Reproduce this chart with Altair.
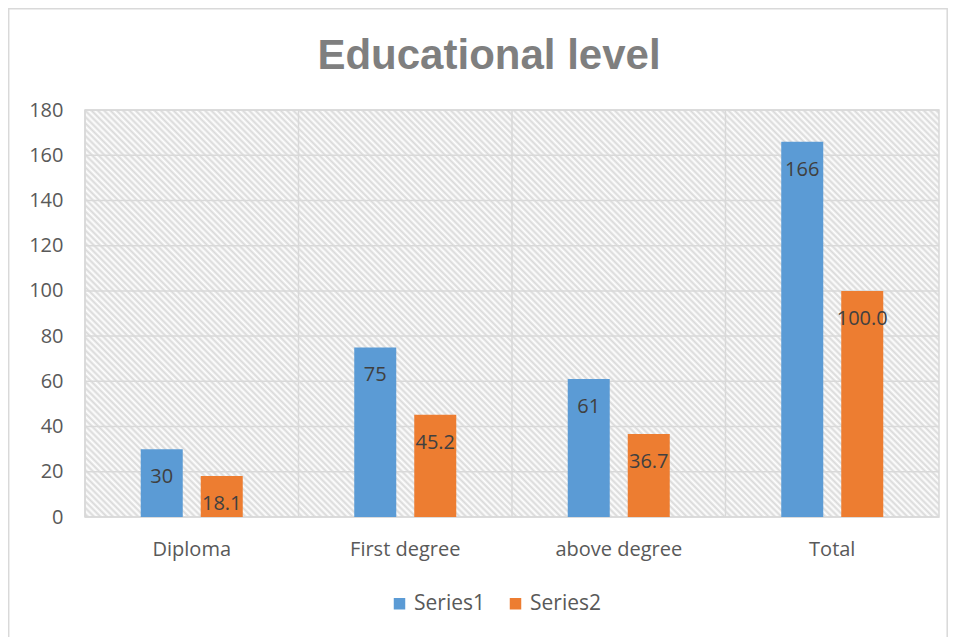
import altair as alt
import pandas as pd

categories = ["Diploma", "First degree", "above degree", "Total"]
series_names = ["Series1", "Series2"]
series1 = [30, 75, 61, 166]
series2 = [18.1, 45.2, 36.7, 100.0]
y_ticks = [0, 20, 40, 60, 80, 100, 120, 140, 160, 180]
colors = ["#5B9BD5", "#ED7D31"]

rows = []
for c, v in zip(categories, series1):
    rows.append({"category": c, "series": "Series1", "value": v})
for c, v in zip(categories, series2):
    rows.append({"category": c, "series": "Series2", "value": v})
df = pd.DataFrame(rows)
ticks_df = pd.DataFrame({"tick": y_ticks})
cats_df = pd.DataFrame({"category": categories})

W, H = 854, 407
FONT = "Open Sans"
GRID = "#d9d9d9"

# diagonal hatch built as a striped linear gradient (style only)
b = -H / W
s = (1 - b) / (1 + b * b)
period = 6.3
N = int(round((W + H) / period))
stops = []
for k in range(2 * N + 1):
    stops.append(alt.GradientStop(color="#ffffff" if k % 2 == 0 else "#d9d9d9",
                                  offset=k / (2 * N)))
hatch = alt.LinearGradient(gradient="linear", stops=stops,
                           x1=0, y1=1, x2=s, y2=1 + s * b)

x_enc = alt.X("category:N", sort=categories, title=None,
              scale=alt.Scale(paddingInner=0, paddingOuter=0),
              axis=alt.Axis(labelAngle=0, labelPadding=22, tickSize=0))
y_scale = alt.Scale(domain=[0, 180], nice=False)

bg = alt.Chart(alt.Data(values=[{}])).mark_rect(
    fill=hatch, stroke=GRID, strokeWidth=1.5
).encode(x=alt.value(0), x2=alt.value(W), y=alt.value(0), y2=alt.value(H))

hgrid = alt.Chart(ticks_df).mark_rule(color=GRID, strokeWidth=1.5).encode(
    y=alt.Y("tick:Q", scale=y_scale, title=None,
            axis=alt.Axis(values=y_ticks, labelPadding=22, tickSize=0))
)

vgrid = alt.Chart(cats_df).mark_rule(color=GRID, strokeWidth=1.5).encode(
    x=alt.X("category:N", sort=categories, title=None, bandPosition=0,
            scale=alt.Scale(paddingInner=0, paddingOuter=0),
            axis=alt.Axis(labelAngle=0, labelPadding=22, tickSize=0))
)

xoff = alt.XOffset("series:N", sort=series_names,
                   scale=alt.Scale(paddingInner=0.3, paddingOuter=0.929))

bars = alt.Chart(df).mark_bar().encode(
    x=x_enc,
    xOffset=xoff,
    y=alt.Y("value:Q", scale=y_scale, title=None,
            axis=alt.Axis(values=y_ticks, labelPadding=22, tickSize=0)),
    color=alt.Color("series:N", sort=series_names,
                    scale=alt.Scale(domain=series_names, range=colors),
                    legend=alt.Legend(orient="none", legendX=304, legendY=483,
                                      direction="horizontal", title=None,
                                      symbolType="square", symbolSize=132,
                                      symbolStrokeWidth=0,
                                      labelFont=FONT, labelFontSize=21,
                                      labelColor="#595959", labelOffset=4,
                                      columnPadding=20)),
)

text = alt.Chart(df).transform_calculate(
    label="datum.series == 'Series2' ? format(datum.value, '.1f') : format(datum.value, 'd')"
).mark_text(font=FONT, fontSize=20, color="#404040", baseline="middle",
            align="center", dy=28).encode(
    x=x_enc,
    xOffset=xoff,
    y=alt.Y("value:Q", scale=y_scale, title=None),
    text="label:N",
)

border = alt.Chart(alt.Data(values=[{}])).mark_rect(
    fill=None, filled=False, stroke=GRID, strokeWidth=1.5
).encode(x=alt.value(-76.3), x2=alt.value(862.2), y=alt.value(-101.3), y2=alt.value(700))

chart = alt.layer(bg, hgrid, vgrid, bars, text, border).properties(
    width=W, height=H,
    padding={"left": 77, "top": 102, "right": 9, "bottom": 120},
    autosize=alt.AutoSizeParams(type="none"),
    title=alt.TitleParams("Educational level", font="Liberation Sans", fontSize=42,
                          fontWeight="bold", color="#7f7f7f", anchor="middle",
                          dx=-23, dy=103, offset=0, baseline="alphabetic"),
).configure_axis(
    grid=False, domain=False, ticks=False,
    labelFont=FONT, labelFontSize=20, labelColor="#595959",
).configure_view(stroke=None)

chart.save("out.html", embed_options={"renderer": "svg", "actions": False})
